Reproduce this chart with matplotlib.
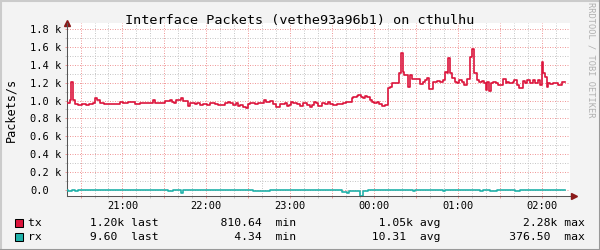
import matplotlib
matplotlib.use('Agg')
import matplotlib.pyplot as plt
from matplotlib.patches import Rectangle
from matplotlib.lines import Line2D

plt.rcParams['font.family'] = ['DejaVu Sans Mono']

# time in minutes after 20:00, packets/s (step starts)
tx_t = [20.3, 22.4, 23.2, 24.9, 26.0, 28.2, 31.0, 33.9, 36.0, 38.9, 40.3, 41.8, 43.9, 46.8,
        51.1, 58.2, 60.4, 64.0, 69.0, 72.5, 76.1, 81.9, 83.3, 90.4, 94.0, 95.2, 96.9, 98.3,
        101.9, 103.1, 107.1, 108.3, 111.9, 113.1, 115.5, 117.9, 120.3, 122.6, 124.6, 126.2,
        128.6, 129.8, 133.4, 135.7, 137.0, 139.3, 141.3, 142.9, 144.1, 146.5, 148.4, 150.1,
        151.3, 154.9, 157.2, 159.7, 161.5, 162.7, 165.6, 168.0, 169.9, 172.7, 176.3, 177.5,
        179.4, 180.4, 182.3, 184.7, 187.1, 189.4, 191.9, 194.2, 195.4, 197.1, 198.3, 200.2,
        202.6, 205.0, 207.3, 208.5, 210.9, 213.3, 218.1, 220.0, 224.1, 225.2, 227.6, 228.8,
        230.5, 231.9, 233.6, 235.2, 237.2, 238.4, 240.0, 242.0, 243.8, 245.5, 247.9, 250.3,
        251.5, 252.7, 256.7, 258.1, 259.3, 260.6, 261.5, 264.6, 265.8, 267.0, 272.9, 274.9,
        276.5, 278.2, 279.6, 282.5, 284.9, 287.3, 289.2, 290.8, 292.0, 293.2, 294.4, 295.6,
        298.0, 299.6, 301.1, 302.8, 304.4, 306.4, 308.7, 309.9, 311.6, 313.5, 315.4, 317.1,
        318.7, 320.2, 321.1, 322.3, 323.5, 325.0, 327.3, 329.0, 332.6, 334.3, 335.4, 336.9,
        339.3, 340.4, 342.2, 344.0, 346.9, 348.1, 349.7, 351.7, 353.6, 355.3, 357.6, 358.8,
        360.1, 361.2, 362.4, 363.6, 364.4, 366.0, 367.9, 369.6, 372.0, 374.4]
tx_v = [972, 1005, 1206, 1005, 966, 950, 966, 955, 961, 972, 1028, 1011, 972, 961,
        966, 986, 972, 983, 961, 977, 968, 1005, 972, 994, 1005, 986, 968, 1005,
        1024, 997, 938, 968, 961, 968, 953, 961, 949, 968, 975, 961,
        946, 949, 968, 986, 968, 949, 968, 938, 949, 931, 916, 961,
        968, 961, 975, 968, 1005, 986, 997, 961, 931, 961, 968, 938,
        949, 986, 968, 961, 938, 968, 949, 931, 949, 986, 968, 938,
        968, 961, 986, 961, 949, 961, 968, 986, 1024, 1035, 1050, 1061,
        1035, 1024, 1050, 1043, 1005, 986, 968, 986, 961, 938, 949, 1136,
        1154, 1192, 1199, 1304, 1527, 1321, 1285, 1154, 1285, 1236, 1181, 1210,
        1229, 1248, 1125, 1210, 1221, 1210, 1229, 1321, 1304, 1471, 1304, 1248,
        1210, 1192, 1229, 1210, 1173, 1240, 1489, 1571, 1304, 1229, 1210, 1221,
        1192, 1117, 1210, 1109, 1192, 1210, 1192, 1173, 1236, 1192, 1210, 1199,
        1210, 1229, 1173, 1136, 1221, 1192, 1229, 1192, 1229, 1192, 1229, 1173,
        1433, 1304, 1259, 1154, 1199, 1185, 1199, 1192, 1173, 1210]
rx_t = [20.3, 21.2, 23.9, 26.0, 28.2, 92.6, 96.2, 101.9, 103.5, 153.4, 163.3, 165.6,
        217.1, 220.7, 222.1, 230.0, 232.2, 235.7, 267.9, 269.4, 289.4, 290.8, 315.9,
        318.0, 323.0, 325.9, 328.0, 340.9, 344.5]
rx_v = [5, -12, 5, -6, 5, -6, 5, -28, 5, -10, -15, 5,
        -18, -28, -6, -67, -6, 5, -6, 5, -6, 5, -6,
        5, -6, -15, 5, -6, 5]
t_end = 376.7

hour_pos = [60, 120, 180, 240, 300, 360]
hour_labels = ['21:00', '22:00', '23:00', '00:00', '01:00', '02:00']
y_ticks = [0, 200, 400, 600, 800, 1000, 1200, 1400, 1600, 1800]
y_labels = ['0.0', '0.2 k', '0.4 k', '0.6 k', '0.8 k', '1.0 k', '1.2 k', '1.4 k', '1.6 k', '1.8 k']

names = ['tx', 'rx']
colors = ['#dc143c', '#20b2aa']
last = [(1.20, 'k'), (9.60, ' ')]
mins = [(810.64, ' '), (4.34, ' ')]
avgs = [(1.05, 'k'), (10.31, ' ')]
maxs = [(2.28, 'k'), (376.50, ' ')]

fig = plt.figure(figsize=(6, 2.5), dpi=100, facecolor='#f3f3f3')
ax = fig.add_axes([67 / 600, 54 / 250, 503 / 600, 173 / 250])
ax.set_facecolor('white')

ax.step(tx_t + [t_end], tx_v + [tx_v[-1]], where='post', color=colors[0], lw=1.2, zorder=3)
ax.step(rx_t + [t_end], rx_v + [rx_v[-1]], where='post', color=colors[1], lw=1.2, zorder=3)

ax.set_xlim(20.3, 380.3)
ax.set_ylim(-67, 1866)

major_x = list(range(30, 361, 30))
ax.set_xticks(major_x)
ax.set_xticklabels([hour_labels[hour_pos.index(p)] if p in hour_pos else '' for p in major_x])
ax.set_xticks(range(30, 380, 10), minor=True)
ax.set_yticks(y_ticks)
ax.set_yticklabels(y_labels, ha='left')
ax.set_yticks(range(100, 1800, 200), minor=True)

dots = (0, (1, 1.5))
ax.grid(which='major', color='#f09a9a', linestyle=dots, linewidth=0.72)
ax.grid(which='minor', color='#c8c8c8', linestyle=dots, linewidth=0.72)
ax.set_axisbelow(True)

ax.tick_params(which='both', direction='out', length=1.5, width=0.72, labelsize=7.5)
ax.tick_params(which='major', color='#f09a9a')
ax.tick_params(which='minor', color='#c8c8c8')
ax.tick_params(axis='y', pad=25.1)
ax.tick_params(axis='x', pad=2)

for s in ['top', 'right']:
    ax.spines[s].set_visible(False)
for s in ['left', 'bottom']:
    ax.spines[s].set_color('#555555')
    ax.spines[s].set_linewidth(0.75)

# axis arrows
ax.plot([0], [1.0], marker='^', ms=5, color='#8b1a1a', transform=ax.transAxes, clip_on=False)
ax.plot([1.007], [0], marker='>', ms=5, color='#8b1a1a', transform=ax.transAxes, clip_on=False)

ax.set_ylabel('Packets/s', fontsize=8.5)
ax.yaxis.set_label_coords(-0.098, 0.497)

fig.text(0.5, 1 - 24 / 250, 'Interface Packets (vethe93a96b1) on cthulhu',
         ha='center', va='baseline', fontsize=9.7)
fig.text(591 / 600, 1 - 60 / 250, 'RRDTOOL / TOBI OETIKER', rotation=270,
         ha='center', va='center', fontsize=6.2, color='#b0b0b0')

# legend rows
rows_y = [226, 240.3]
for i in range(2):
    lv, ls = last[i]
    mv, ms = mins[i]
    av, asx = avgs[i]
    xv, xs = maxs[i]
    row = (f"{names[i]:<9}{lv:>4.2f}{ls} last{mv:>15.2f}{ms} min"
           f"{av:>16.2f}{asx} avg{xv:>16.2f}{xs} max")
    fig.text(28 / 600, 1 - rows_y[i] / 250, row, ha='left', va='baseline', fontsize=8.2)
    fig.add_artist(Rectangle((15 / 600, 1 - (rows_y[i] + 0.5) / 250), 8 / 600, 8 / 250,
                             transform=fig.transFigure, facecolor=colors[i],
                             edgecolor='black', linewidth=0.75))

# frame
fig.add_artist(Line2D([0, 1], [1 - 0.5 / 250] * 2, transform=fig.transFigure, color='#cbcbcb', lw=1.5))
fig.add_artist(Line2D([0.5 / 600] * 2, [0, 1], transform=fig.transFigure, color='#cbcbcb', lw=1.5))
fig.add_artist(Line2D([0, 1], [0.5 / 250] * 2, transform=fig.transFigure, color='#999999', lw=1.5))
fig.add_artist(Line2D([1 - 0.5 / 600] * 2, [0, 1], transform=fig.transFigure, color='#999999', lw=1.5))

fig.savefig('out.png', dpi=100, facecolor=fig.get_facecolor())
